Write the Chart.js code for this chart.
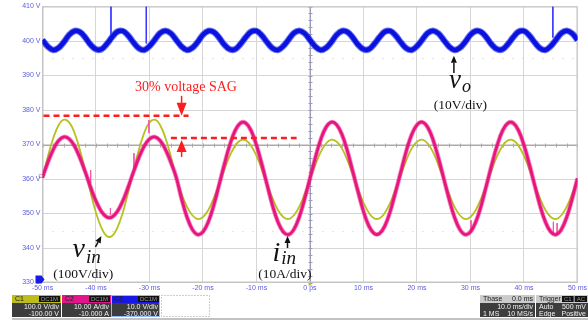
<!DOCTYPE html>
<html>
<head>
<meta charset="utf-8">
<title>Voltage sag scope capture</title>
<script src="https://cdn.jsdelivr.net/npm/chart.js@4.4.0/dist/chart.umd.min.js"></script>
<style>
  body { margin: 0; background: #fff; }
  #wrap { width: 588px; height: 320px; }
</style>
</head>
<body>
<div id="wrap"><canvas id="scope" width="588" height="320"></canvas></div>
<script>
// sample instants, ms (one sample per ms)
const timeMs = [
  -50, -49, -48, -47, -46, -45, -44, -43, -42, -41, -40, -39, -38, -37, -36, -35, -34, -33, -32, -31,
  -30, -29, -28, -27, -26, -25, -24, -23, -22, -21, -20, -19, -18, -17, -16, -15, -14, -13, -12, -11,
  -10, -9, -8, -7, -6, -5, -4, -3, -2, -1, 0, 1, 2, 3, 4, 5, 6, 7, 8, 9,
  10, 11, 12, 13, 14, 15, 16, 17, 18, 19, 20, 21, 22, 23, 24, 25, 26, 27, 28, 29,
  30, 31, 32, 33, 34, 35, 36, 37, 38, 39, 40, 41, 42, 43, 44, 45, 46, 47, 48, 49, 50
];

// C1 input voltage v_in (yellow), in screen volts
const vinTrace = [
  360.2, 366.5, 371.8, 375.6, 377.2, 376.4, 373.3, 368.4, 362.3, 356.0, 350.2, 345.9, 343.5, 343.5, 345.9,
  350.2, 356.0, 362.3, 368.4, 373.3, 376.4, 377.2, 375.6, 371.8, 366.5, 360.2,
  355.7, 352.0, 349.5, 348.4, 349.0, 351.0, 354.4, 358.5, 362.8, 366.7, 369.6, 371.2, 371.2, 369.6, 366.7,
  362.8, 358.5, 354.4, 351.0, 349.0, 348.4, 349.5, 352.0, 355.7, 359.9,
  364.1, 367.8, 370.3, 371.4, 370.8, 368.8, 365.4, 361.3, 357.0, 353.1, 350.2, 348.6, 348.6, 350.2, 353.1,
  357.0, 361.3, 365.4, 368.8, 370.8, 371.4, 370.3, 367.8, 364.1, 359.9,
  355.7, 352.0, 349.5, 348.4, 349.0, 351.0, 354.4, 358.5, 362.8, 366.7, 369.6, 371.2, 371.2, 369.6, 366.7,
  362.8, 358.5, 354.4, 351.0, 349.0, 348.4, 349.5, 352.0, 355.7, 359.9
];

// C2 input current i_in (magenta)
const iinTrace = [
  360.5, 364.8, 368.5, 371.1, 372.2, 371.6, 369.5, 366.1, 362.0, 357.6, 353.6, 350.6, 349.0, 349.0, 350.6,
  353.6, 357.6, 362.0, 366.1, 369.5, 371.6, 372.2, 371.1, 368.5, 364.8, 360.5,
  354.2, 349.0, 345.4, 343.9, 344.7, 347.6, 352.3, 358.2, 364.3, 369.8, 374.0, 376.2, 376.2, 374.0, 369.8,
  364.3, 358.2, 352.3, 347.6, 344.7, 343.9, 345.4, 349.0, 354.2, 360.2,
  366.2, 371.4, 375.0, 376.5, 375.7, 372.8, 368.1, 362.2, 356.2, 350.6, 346.4, 344.2, 344.2, 346.4, 350.6,
  356.2, 362.2, 368.1, 372.8, 375.7, 376.5, 375.0, 371.4, 366.2, 360.2,
  354.2, 349.0, 345.4, 343.9, 344.7, 347.6, 352.3, 358.2, 364.3, 369.8, 374.0, 376.2, 376.2, 374.0, 369.8,
  364.3, 358.2, 352.3, 347.6, 344.7, 343.9, 345.4, 349.0, 354.2, 360.2
];

// C3 output voltage v_o (blue), 120 Hz ripple
const voTrace = [
  400.3, 398.4, 397.4, 398.0, 399.7, 401.8, 402.9, 402.6, 401.0, 398.9, 397.6, 397.6, 399.1, 401.1, 402.7,
  402.9, 401.6, 399.6, 397.9, 397.4, 398.5, 400.4, 402.3, 403.0, 402.2,
  400.3, 398.4, 397.4, 398.0, 399.7, 401.8, 402.9, 402.6, 401.0, 398.9, 397.6, 397.6, 399.1, 401.1, 402.7,
  402.9, 401.6, 399.6, 397.9, 397.4, 398.5, 400.4, 402.3, 403.0, 402.2,
  400.3, 398.4, 397.4, 398.0, 399.7, 401.8, 402.9, 402.6, 401.0, 398.9, 397.6, 397.6, 399.1, 401.1, 402.7,
  402.9, 401.6, 399.6, 397.9, 397.4, 398.5, 400.4, 402.3, 403.0, 402.2,
  400.3, 398.4, 397.4, 398.0, 399.7, 401.8, 402.9, 402.6, 401.0, 398.9, 397.6, 397.6, 399.1, 401.1, 402.7,
  402.9, 401.6, 399.6, 397.9, 397.4, 398.5, 400.4, 402.3, 403.0, 402.2,
  400.3
];

// glitches captured by the scope
const blueSpikeTimes = [-37.2, -30.6, 45.4];
const blueSpikeLow = [399.6, 399.3, 401.0];
const pinkSpikeTimes = [-41.0, -37.3, -32.9, -30.1, 30.1, 45.5, 46.2];
const pinkSpikeLow = [358.8, 349.6, 362.6, 373.3, 344.6, 344.0, 344.2];
const pinkSpikeHigh = [362.6, 351.6, 367.5, 377.1, 348.0, 347.6, 347.2];

// tick values
const timeTicks = [-50, -40, -30, -20, -10, 0, 10, 20, 30, 40, 50];
const voltTicks = [330, 340, 350, 360, 370, 380, 390, 400, 410];
const dottedLevels = [395, 345];

const FONT_SANS = '"Liberation Sans", Arial, sans-serif';
const FONT_SERIF = '"Liberation Serif", "Times New Roman", serif';

function points(values) {
  return timeMs.map((t, i) => ({ x: t, y: values[i] }));
}

function spikePoints(times, low, high) {
  const out = [];
  times.forEach((t, i) => {
    out.push({ x: t, y: high[i] }, { x: t, y: low[i] }, { x: t, y: null });
  });
  return out;
}

function line(ctx, x1, y1, x2, y2) {
  ctx.beginPath();
  ctx.moveTo(x1, y1);
  ctx.lineTo(x2, y2);
  ctx.stroke();
}

function arrow(ctx, tailX, tailY, tipX, tipY, headLen, half, color, stem) {
  const ang = Math.atan2(tipY - tailY, tipX - tailX);
  const bx = tipX - headLen * Math.cos(ang);
  const by = tipY - headLen * Math.sin(ang);
  ctx.strokeStyle = color;
  ctx.fillStyle = color;
  ctx.lineWidth = stem;
  line(ctx, tailX, tailY, bx, by);
  ctx.beginPath();
  ctx.moveTo(tipX, tipY);
  ctx.lineTo(bx + half * Math.sin(ang), by - half * Math.cos(ang));
  ctx.lineTo(bx - half * Math.sin(ang), by + half * Math.cos(ang));
  ctx.closePath();
  ctx.fill();
}

function mathLabel(ctx, main, sub, x, y, mainSize, subSize, drop) {
  ctx.fillStyle = '#111';
  ctx.textAlign = 'left';
  ctx.textBaseline = 'alphabetic';
  ctx.font = 'italic ' + mainSize + 'px ' + FONT_SERIF;
  ctx.fillText(main, x, y);
  const w = ctx.measureText(main).width;
  ctx.font = 'italic ' + subSize + 'px ' + FONT_SERIF;
  ctx.fillText(sub, x + w + 1, y + drop);
}

function infoBox(ctx, x, w, headColor, headText, headTextColor, rows, badges) {
  ctx.fillStyle = headColor;
  ctx.fillRect(x, 295, w, 8);
  ctx.fillStyle = '#3d3d3d';
  ctx.fillRect(x, 303, w, 14);
  ctx.font = '7px ' + FONT_SANS;
  ctx.textBaseline = 'middle';
  ctx.textAlign = 'left';
  ctx.fillStyle = headTextColor;
  ctx.fillText(headText[0], x + 3, 299.5);
  if (headText[1]) {
    ctx.textAlign = 'right';
    ctx.fillText(headText[1], x + w - 2, 299.5);
  }
  let bx = x + w - 1;
  (badges || []).forEach(b => {
    ctx.font = '6px ' + FONT_SANS;
    const bw = ctx.measureText(b).width + 4;
    bx -= bw;
    ctx.fillStyle = '#111';
    ctx.fillRect(bx, 296, bw, 6);
    ctx.fillStyle = '#9a9a9a';
    ctx.textAlign = 'left';
    ctx.fillText(b, bx + 2, 299.2);
    bx -= 1;
  });
  ctx.font = '7px ' + FONT_SANS;
  ctx.fillStyle = '#f2f2f2';
  rows.forEach((r, i) => {
    const yy = 307 + i * 7;
    if (r[0]) { ctx.textAlign = 'left'; ctx.fillText(r[0], x + 3, yy); }
    if (r[1]) { ctx.textAlign = 'right'; ctx.fillText(r[1], x + w - 2, yy); }
  });
}

const scopeDecor = {
  id: 'scopeDecor',
  beforeDatasetsDraw(chart) {
    const { ctx, chartArea: a, scales: { x, y } } = chart;
    ctx.save();
    ctx.lineWidth = 1;
    ctx.strokeStyle = '#c9c9c9';
    ctx.setLineDash([1, 9]);
    dottedLevels.forEach(v => {
      const py = Math.round(y.getPixelForValue(v)) + 0.5;
      line(ctx, a.left, py, a.right, py);
    });
    ctx.setLineDash([]);

    // centre axes with minor ticks
    const cx = Math.round(x.getPixelForValue(0)) + 0.5;
    const cy = Math.round(y.getPixelForValue(370)) + 0.5;
    ctx.strokeStyle = '#9c9cb8';
    line(ctx, cx, a.top, cx, a.bottom);
    ctx.strokeStyle = '#aaaaaa';
    line(ctx, a.left, cy, a.right, cy);
    for (let t = -50; t <= 50; t += 2) {
      const px = Math.round(x.getPixelForValue(t)) + 0.5;
      line(ctx, px, cy - 2, px, cy + 2);
    }
    ctx.strokeStyle = '#9c9cb8';
    for (let v = 330; v <= 410; v += 2) {
      const py = Math.round(y.getPixelForValue(v)) + 0.5;
      line(ctx, cx - 2, py, cx + 2, py);
    }
    ctx.strokeStyle = '#c4c4c4';
    ctx.strokeRect(a.left + 0.5, a.top + 0.5, a.right - a.left - 1, a.bottom - a.top - 1);
    ctx.restore();
  },
  afterDatasetsDraw(chart) {
    const { ctx, scales: { x, y } } = chart;
    const px = t => x.getPixelForValue(t);
    const py = v => y.getPixelForValue(v);
    ctx.save();

    // sag markers
    const red = '#ff1c1c';
    ctx.strokeStyle = red;
    ctx.lineWidth = 2.5;
    ctx.setLineDash([6, 4]);
    line(ctx, px(-50) + 1, py(378.3), px(-22.7), py(378.3));
    line(ctx, px(-26.0), py(371.9), px(-2.5), py(371.9));
    ctx.setLineDash([]);
    const ax = px(-24.0);
    arrow(ctx, ax, py(378.3) - 20, ax, py(378.3), 13, 5, red, 1.5);
    arrow(ctx, ax, py(371.9) + 19, ax, py(371.9) + 2, 12, 5, red, 1.5);
    ctx.fillStyle = red;
    ctx.font = '14px ' + FONT_SERIF;
    ctx.textAlign = 'left';
    ctx.textBaseline = 'alphabetic';
    ctx.fillText('30% voltage SAG', px(-32.7), py(385.5));

    // trace labels
    mathLabel(ctx, 'v', 'o', px(26.0), py(386.4), 27, 18, 4);
    arrow(ctx, px(26.9), py(390.7), px(26.9), py(395.7), 7, 3, '#111', 1.5);
    mathLabel(ctx, 'v', 'in', px(-44.4), py(337.4), 28, 19, 6);
    arrow(ctx, px(-40.1), py(340.3), px(-39.0), py(343.5), 7, 3, '#111', 1.5);
    mathLabel(ctx, 'i', 'in', px(-7.0), py(336.2), 28, 19, 3);
    arrow(ctx, px(-4.2), py(340.0), px(-4.2), py(343.5), 7, 3, '#111', 1.5);

    ctx.fillStyle = '#111';
    ctx.font = '13.5px ' + FONT_SERIF;
    ctx.textAlign = 'center';
    ctx.fillText('(10V/div)', px(28.1), py(380.3));
    ctx.fillText('(100V/div)', px(-42.4), py(331.3));
    ctx.fillText('(10A/div)', px(-4.7), py(331.3));
    ctx.restore();
  },
  afterDraw(chart) {
    const { ctx, chartArea: a, scales: { x, y } } = chart;
    ctx.save();
    // channel markers
    ctx.fillStyle = '#1a1ae8';
    const my = y.getPixelForValue(330) - 3;
    ctx.beginPath();
    ctx.moveTo(a.left - 7, my - 4);
    ctx.lineTo(a.left - 1, my - 4);
    ctx.lineTo(a.left + 2, my);
    ctx.lineTo(a.left - 1, my + 4);
    ctx.lineTo(a.left - 7, my + 4);
    ctx.closePath();
    ctx.fill();
    ctx.fillStyle = '#e8157f';
    ctx.font = '5px ' + FONT_SANS;
    ctx.textAlign = 'left';
    ctx.textBaseline = 'middle';
    ctx.fillText('C2', a.left - 4, y.getPixelForValue(360) - 2);
    ctx.fillStyle = '#b9c227';
    const zx = x.getPixelForValue(0);
    ctx.beginPath();
    ctx.moveTo(zx - 2, a.bottom + 3);
    ctx.lineTo(zx + 2, a.bottom + 3);
    ctx.lineTo(zx, a.bottom);
    ctx.closePath();
    ctx.fill();

    // status boxes
    infoBox(ctx, 12, 49, '#bcbc1c', ['C1'], '#222', [['', '100.0 V/div'], ['', '-100.00 V']], ['DC1M']);
    infoBox(ctx, 62, 49, '#e3158a', ['C2'], '#222', [['', '10.00 A/div'], ['', '-10.000 A']], ['DC1M']);
    infoBox(ctx, 111, 49, '#1717e6', ['C3'], '#222', [['', '10.0 V/div'], ['', '-370.000 V']], ['DC1M']);
    ctx.strokeStyle = '#8fb6ff';
    ctx.lineWidth = 1;
    ctx.strokeRect(111.5, 295.5, 48, 21);
    ctx.strokeStyle = '#9a9a9a';
    ctx.setLineDash([1, 2]);
    ctx.strokeRect(161.5, 295.5, 48, 21);
    ctx.setLineDash([]);
    infoBox(ctx, 480, 55, '#cbcbcb', ['Tbase', '0.0 ms'], '#222', [['', '10.0 ms/div'], ['1 MS', '10 MS/s']]);
    infoBox(ctx, 536, 52, '#cbcbcb', ['Trigger'], '#222', [['Auto', '500 mV'], ['Edge', 'Positive']], ['AC', 'C1']);
    ctx.fillStyle = '#c2c2c2';
    ctx.fillRect(12, 318, 576, 2);
    ctx.restore();
  }
};

const ctx = document.getElementById('scope').getContext('2d');

const scopeChart = new Chart(ctx, {
  type: 'line',
  data: {
    datasets: [
      { label: 'i_in', data: points(iinTrace), borderColor: '#e8157f', borderWidth: 2.8, order: 0 },
      { label: 'i_in band', data: points(iinTrace), borderColor: 'rgba(232,21,127,0.5)', borderWidth: 4.5, order: 1 },
      { label: 'pink glitches', data: spikePoints(pinkSpikeTimes, pinkSpikeLow, pinkSpikeHigh),
        borderColor: '#f05aa8', borderWidth: 1, tension: 0, spanGaps: false, order: 1 },
      { label: 'v_in', data: points(vinTrace), borderColor: '#b7c122', borderWidth: 1.8, order: 2 },
      { label: 'v_o', data: points(voTrace), borderColor: '#0a12e0', borderWidth: 4.5, order: 3 },
      { label: 'v_o band', data: points(voTrace), borderColor: 'rgba(10,20,225,0.6)', borderWidth: 6.5, order: 4 },
      { label: 'blue glitches', data: spikePoints(blueSpikeTimes, blueSpikeLow, blueSpikeTimes.map(() => 410)),
        borderColor: '#3a3aff', borderWidth: 1, tension: 0, spanGaps: false, order: 3 }
    ]
  },
  options: {
    responsive: false,
    animation: false,
    events: [],
    layout: { padding: { top: 6.5, right: 5.5, left: 0, bottom: 0 } },
    elements: { point: { radius: 0 }, line: { tension: 0.4 } },
    plugins: { legend: { display: false }, tooltip: { enabled: false } },
    scales: {
      x: {
        type: 'linear',
        min: -50,
        max: 50,
        afterBuildTicks: s => { s.ticks = timeTicks.map(v => ({ value: v })); },
        afterFit: s => { s.height = 37.5; },
        grid: { color: '#d6d6d6', drawTicks: false },
        border: { color: '#c4c4c4' },
        ticks: {
          padding: 1,
          color: '#5a5ae0',
          font: { family: FONT_SANS, size: 7 },
          maxRotation: 0,
          callback: v => (v === 0 ? '0 ps' : v + ' ms')
        }
      },
      y: {
        min: 330,
        max: 410,
        afterBuildTicks: s => { s.ticks = voltTicks.map(v => ({ value: v })); },
        afterFit: s => { s.width = 42.5; },
        grid: { color: '#d6d6d6', drawTicks: false },
        border: { color: '#c4c4c4' },
        ticks: {
          padding: 2,
          color: '#5a5ae0',
          font: { family: FONT_SANS, size: 7 },
          callback: v => v + ' V'
        }
      }
    }
  },
  plugins: [scopeDecor]
});
</script>
</body>
</html>
